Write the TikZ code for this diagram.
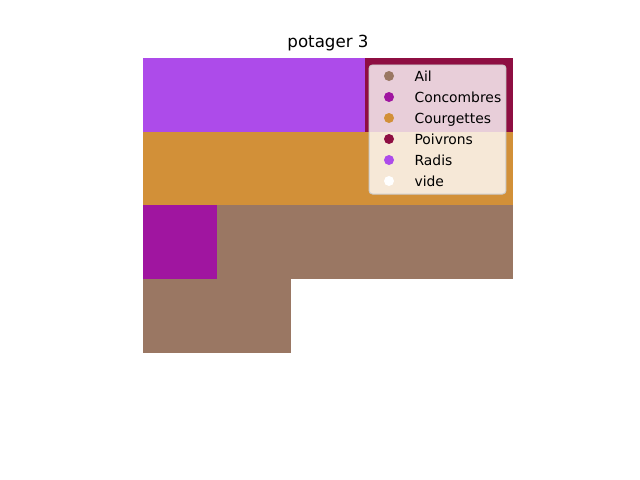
\documentclass[tikz,border=0pt]{standalone}
\usepackage{fontspec}
\setmainfont{DejaVu Sans}
\usetikzlibrary{positioning}
\definecolor{ail}{HTML}{9A7763}
\definecolor{concombres}{HTML}{A015A0}
\definecolor{courgettes}{HTML}{D29038}
\definecolor{poivrons}{HTML}{8E0E42}
\definecolor{radis}{HTML}{AD4BEA}
\definecolor{vide}{HTML}{FFFFFF}
\tikzset{every node/.style={font=\fontsize{10}{12}\selectfont},
  legendbox/.style={draw=black!20,fill=white,fill opacity=.8,rounded corners=2.5pt,
    line width=.7pt,minimum width=98.6pt,minimum height=92.9pt,inner sep=0pt},
  marker/.style={circle,fill=#1,inner sep=0pt,minimum size=7.2pt},
  entry/.style={anchor=west,inner sep=0pt,text height=7.3pt,text depth=0pt}}
\begin{document}
\begin{tikzpicture}[x=.72pt,y=-.72pt]
\useasboundingbox (0,0) rectangle (640,480);
% garden beds, row by row
\foreach \row/\cells in {0/{radis,radis,radis,poivrons,poivrons},
  1/{courgettes,courgettes,courgettes,courgettes,courgettes},
  2/{concombres,ail,ail,ail,ail},
  3/{ail,ail,vide,vide,vide},
  4/{vide,vide,vide,vide,vide}} {
 \foreach \c [count=\col from 0] in \cells
  \fill[\c] ({143.2+73.92*\col},{57.6+73.92*\row}) rectangle ++(73.92,73.92);}
\node (title) at (328,43) {\fontsize{12}{14}\selectfont potager 3};
% legend
\node[legendbox] (legend) at (437.5,129.5) {};
\foreach \name/\lab [count=\i from 0] in {ail/Ail,concombres/Concombres,
  courgettes/Courgettes,poivrons/Poivrons,radis/Radis,vide/vide} {
 \node[marker=\name] (m\i) at (389,{76+21*\i}) {};
 \node[entry,right=14.4pt of m\i] (l\i) {\lab};}
\end{tikzpicture}
\end{document}
